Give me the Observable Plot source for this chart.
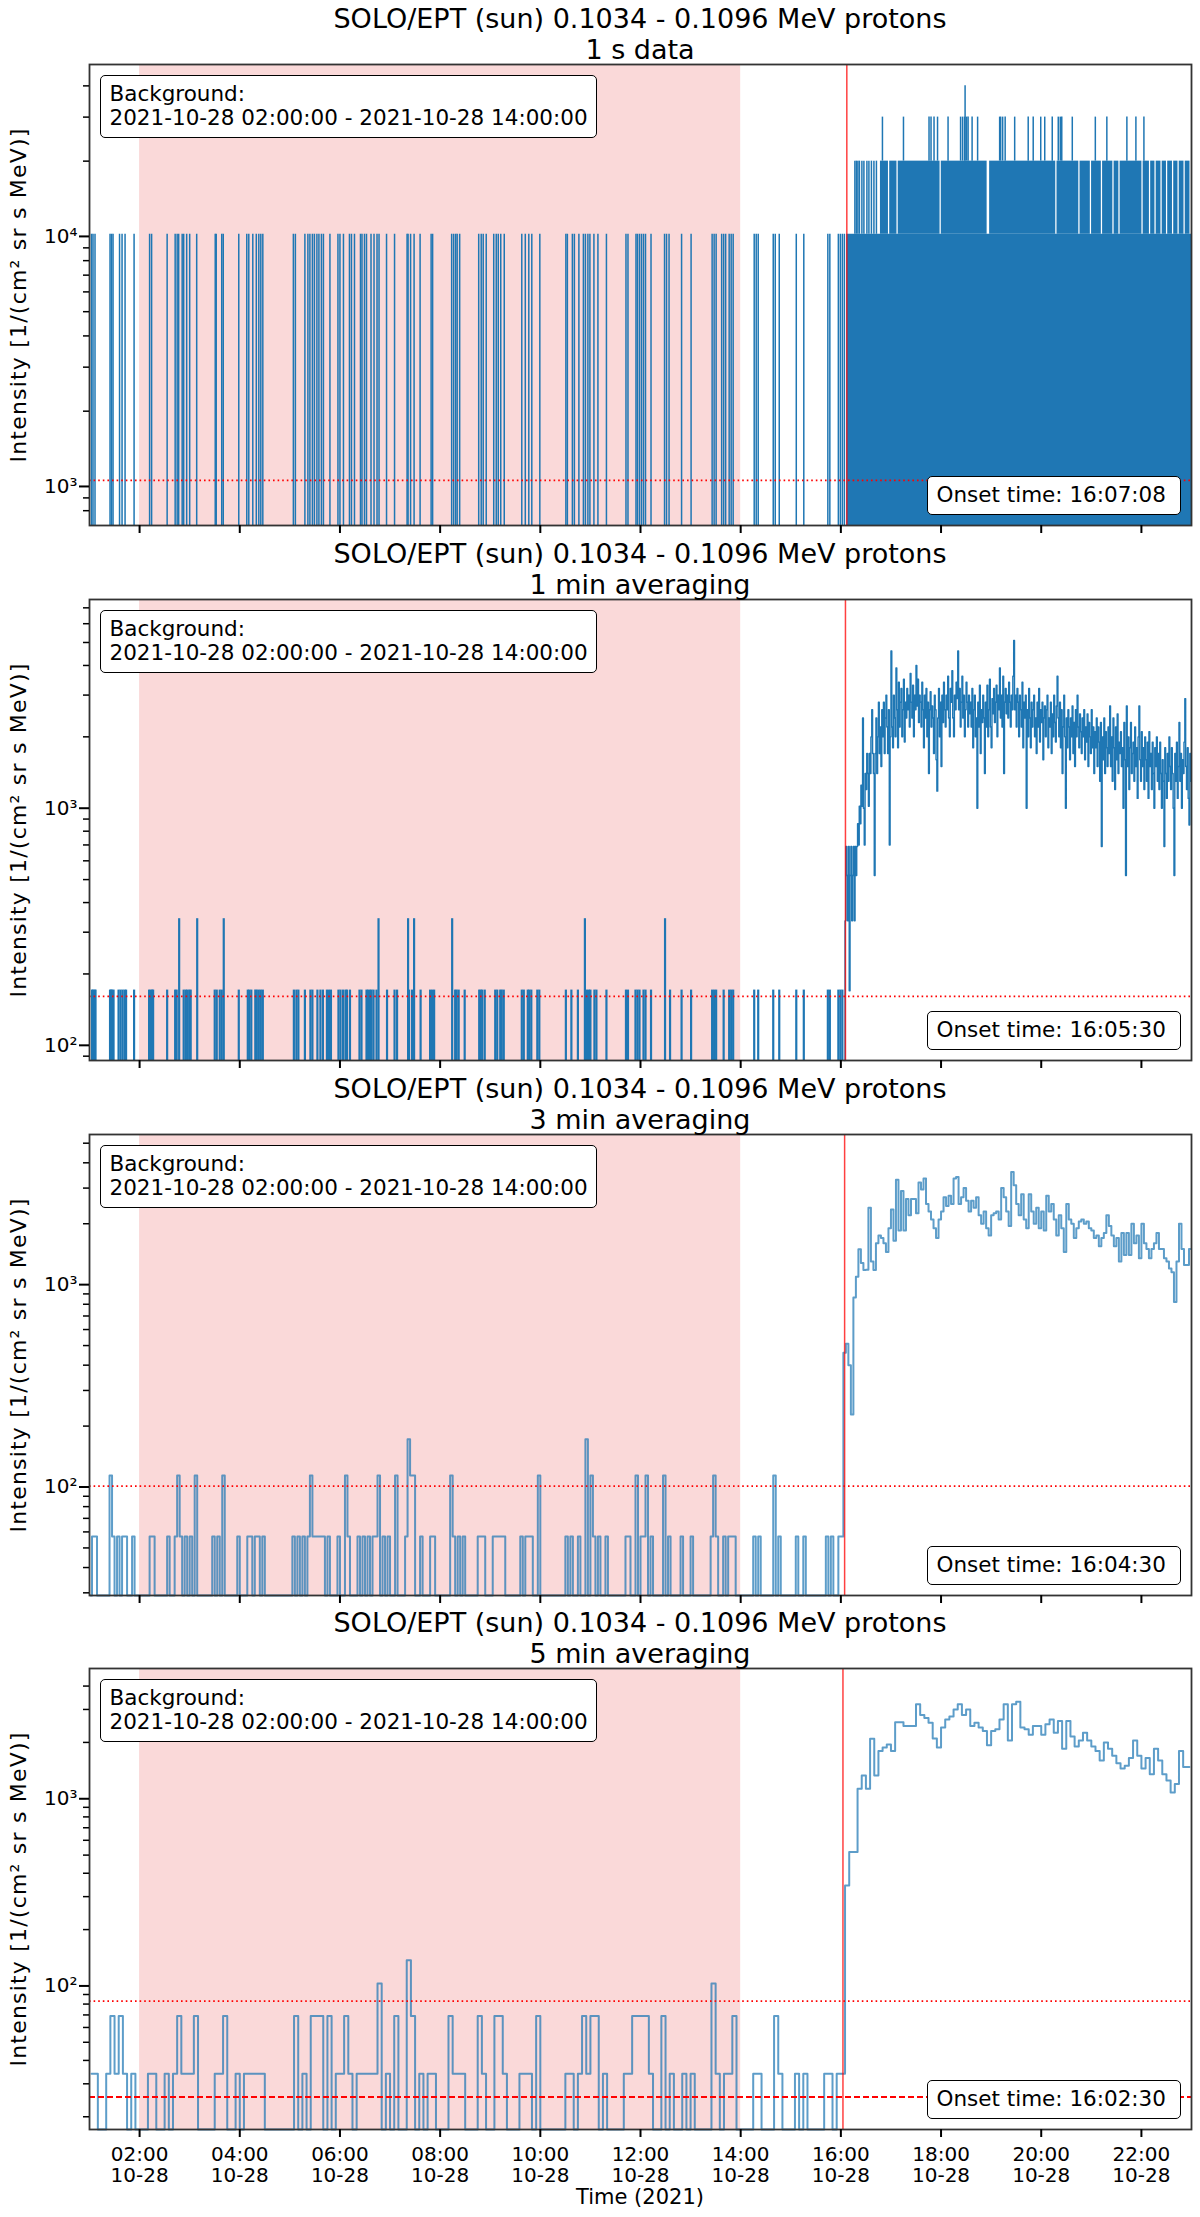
<!DOCTYPE html>
<html>
<head>
<meta charset="utf-8">
<script src="https://cdn.jsdelivr.net/npm/d3@7"></script>
<script src="https://cdn.jsdelivr.net/npm/@observablehq/plot@0.6"></script>
<style>
  body { margin: 0; background: #fff; }
  #page { position: relative; width: 1200px; height: 2217px; overflow: hidden; font-family: "DejaVu Sans", sans-serif; color: #000; }
  #page > div { position: absolute; }
  .title { left: 89px; width: 1102px; text-align: center; font-size: 27px; line-height: 31px; white-space: pre; }
  .box { background: #fff; border: 1.5px solid #000; border-radius: 5px; box-sizing: border-box; font-size: 21.5px; line-height: 24.5px; padding: 5.5px 8px 0 8.5px; white-space: pre; }
  .xlabel { left: 89px; width: 1102px; text-align: center; font-size: 21px; line-height: 24px; }
</style>
</head>
<body>
<div id="page"></div>
<script>
// ---- labels ----
const channelTitle = "SOLO/EPT (sun) 0.1034 - 0.1096 MeV protons"
const panelTitles = ["1 s data", "1 min averaging", "3 min averaging", "5 min averaging"]
const bgLabel = "Background:\n2021-10-28 02:00:00 - 2021-10-28 14:00:00"
const yLabel = "Intensity [1/(cm² sr s MeV)]"
const xLabel = "Time (2021)"
const onsetTimes = ["16:07:08", "16:05:30", "16:04:30", "16:02:30"]

// background window (hours of 2021-10-28) and threshold levels
const bgWindow = [2, 14]
const thresholdLevels = [1057, 161, 101, 83]
const meanLevel5min = 25.5

// axes
const xTickHours = [2, 4, 6, 8, 10, 12, 14, 16, 18, 20, 22]
const xTickLabels = ["02:00\n10-28", "04:00\n10-28", "06:00\n10-28", "08:00\n10-28", "10:00\n10-28", "12:00\n10-28",
  "14:00\n10-28", "16:00\n10-28", "18:00\n10-28", "20:00\n10-28", "22:00\n10-28"]
const yDomains = [[698, 48700], [86.3, 7590], [29.1, 5520], [17.1, 4965]]
const yMajorTicks = [[1e3, 1e4], [1e2, 1e3], [1e2, 1e3], [1e2, 1e3]]
const yMajorLabels = [["10³", "10⁴"], ["10²", "10³"], ["10²", "10³"], ["10²", "10³"]]
const yMinorTicks = [
  [800, 900, 2000, 3000, 4000, 5000, 6000, 7000, 8000, 9000, 20000, 30000, 40000],
  [90, 200, 300, 400, 500, 600, 700, 800, 900, 2000, 3000, 4000, 5000, 6000, 7000],
  [30, 40, 50, 60, 70, 80, 90, 200, 300, 400, 500, 600, 700, 800, 900, 2000, 3000, 4000, 5000],
  [20, 30, 40, 50, 60, 70, 80, 90, 200, 300, 400, 500, 600, 700, 800, 900, 2000, 3000, 4000]
]

// ---- 1 s data (hours of single-second spikes) ----
const level1s = [10200, 20000, 30000, 40000]
const spikes1s = [1.04, 1.07, 1.11, 1.41, 1.44, 1.47, 1.60, 1.65, 1.71, 1.89, 2.20, 2.24, 2.55, 2.71, 2.75, 2.78, 2.85,
  2.88, 2.94, 3.00, 3.14, 3.51, 3.53, 3.64, 3.67, 3.98, 4.14, 4.18, 4.26, 4.33, 4.38, 4.42, 4.46, 5.07, 5.11, 5.30,
  5.36, 5.40, 5.45, 5.49, 5.54, 5.58, 5.63, 5.67, 5.80, 5.96, 6.00, 6.07, 6.19, 6.23, 6.29, 6.41, 6.44, 6.49, 6.53,
  6.62, 6.68, 6.74, 6.78, 6.93, 7.09, 7.34, 7.36, 7.41, 7.48, 7.60, 7.82, 7.85, 8.23, 8.27, 8.31, 8.34, 8.39, 8.77,
  8.82, 8.86, 8.92, 9.07, 9.12, 9.16, 9.21, 9.28, 9.63, 9.70, 9.77, 9.83, 9.99, 10.51, 10.54, 10.64, 10.68, 10.77,
  10.86, 10.90, 10.95, 10.99, 11.07, 11.15, 11.32, 11.71, 11.75, 11.91, 11.94, 11.98, 12.02, 12.06, 12.10, 12.21,
  12.48, 12.52, 12.57, 12.82, 13.01, 13.43, 13.47, 13.51, 13.62, 13.66, 13.70, 13.77, 13.81, 13.85, 14.27, 14.31,
  14.35, 14.65, 14.69, 14.77, 15.11, 15.26, 15.74, 15.78, 15.95, 15.99, 16.03, 16.07]
const dense1s = [[16.119, 23]]
const double1s = [16.28, 16.31, 16.34, 16.37, 16.42, 16.46, 16.52, 16.56, 16.61, 16.66, 16.71]
const denseDouble1s = [[16.79, 16.95], [16.975, 17.12], [17.145, 17.98], [18.005, 18.92], [18.97, 20.29],
  [20.315, 20.75], [20.775, 20.98], [21.005, 21.20], [21.225, 21.43], [21.455, 21.55], [21.575, 22.01],
  [22.035, 22.16], [22.185, 22.27], [22.295, 22.39], [22.415, 22.50], [22.525, 22.62], [22.645, 22.73],
  [22.755, 22.85], [22.875, 22.97]]
const triple1s = [16.83, 17.25, 17.76, 17.80, 17.86, 17.93, 18.14, 18.39, 18.43, 18.47, 18.51, 18.54, 18.62, 18.73,
  19.17, 19.19, 19.23, 19.28, 19.47, 19.74, 19.84, 19.99, 20.07, 20.22, 20.34, 20.38, 20.41, 20.62, 21.08, 21.31,
  21.71, 21.89, 22.05]
const quad1s = [18.48]

// ---- 1 min averaging ----
const level1min = [171, 342]
const spikes1min = [1.05, 1.07, 1.10, 1.12, 1.41, 1.43, 1.45, 1.48, 1.58, 1.62, 1.66, 1.70, 1.73, 1.89, 2.19, 2.22,
  2.25, 2.27, 2.55, 2.71, 2.74, 2.88, 2.92, 2.95, 2.99, 3.02, 3.50, 3.54, 3.60, 3.64, 3.98, 4.16, 4.19, 4.23, 4.31,
  4.34, 4.38, 4.42, 4.46, 5.08, 5.13, 5.17, 5.30, 5.41, 5.45, 5.55, 5.61, 5.66, 5.74, 5.78, 5.82, 5.97, 6.01, 6.06,
  6.11, 6.14, 6.20, 6.39, 6.43, 6.53, 6.56, 6.60, 6.63, 6.67, 6.73, 6.94, 7.09, 7.14, 7.38, 7.44, 7.61, 7.80, 7.84,
  7.88, 8.30, 8.33, 8.37, 8.49, 8.78, 8.81, 8.84, 8.89, 9.10, 9.14, 9.20, 9.23, 9.27, 9.63, 9.67, 9.75, 9.78, 9.82,
  9.94, 9.98, 10.51, 10.62, 10.75, 10.93, 10.97, 11.00, 11.08, 11.12, 11.32, 11.71, 11.75, 11.90, 11.94, 11.98,
  12.06, 12.10, 12.21, 12.59, 12.82, 13.01, 13.43, 13.47, 13.51, 13.66, 13.77, 13.81, 13.85, 14.27, 14.35, 14.65,
  14.77, 15.11, 15.26, 15.74, 15.78, 15.95, 15.99, 16.03]
const spikes1minDouble = [2.79, 3.15, 3.68, 6.77, 7.36, 7.48, 8.24, 10.89, 12.49]
const flux1minStart = 16 + 4 / 60
const flux1min = [0,
  335, 690, 520, 335, 690, 170, 520, 690, 335, 520, 690, 335, 690, 520, 690,
  860, 700, 1020, 860, 1250, 1020, 2400, 1000, 700, 1400, 1200, 1700, 1400, 1020, 1700,
  1400, 2000, 2600, 1700, 1400, 520, 1700, 2400, 1400, 2000, 2800, 1700, 2200, 1500, 2600,
  2000, 2800, 1700, 2400, 3000, 2200, 1700, 2600, 700, 2000, 4600, 2200, 1800, 3000, 2400,
  2000, 3900, 2600, 1800, 3400, 2200, 2800, 3200, 2000, 2600, 3500, 1900, 2800, 2400, 3200,
  2600, 3000, 2200, 3700, 2800, 2400, 3300, 2000, 3000, 2600, 4000, 2700, 3500, 2300, 3000,
  2800, 2200, 3400, 2600, 1800, 3000, 2400, 3200, 2000, 2800, 1400, 2600, 3100, 2200, 2700,
  2400, 1700, 3000, 2600, 1600, 1180, 2400, 3200, 2000, 2800, 1500, 3000, 2300, 3400, 2600,
  2200, 3000, 2600, 3600, 2400, 2000, 3200, 2800, 3800, 2400, 2000, 3000, 2600, 3400, 2900,
  4600, 2600, 3200, 2200, 2800, 3600, 2400, 3000, 2000, 2600, 3400, 2800, 2200, 3000, 2500,
  2800, 2200, 3200, 1800, 2600, 3000, 2000, 2400, 1000, 2800, 2200, 3300, 1700, 2600, 2300,
  3000, 2400, 1400, 2800, 2200, 3300, 2000, 2600, 3500, 2200, 1800, 2900, 2500, 3200, 2300,
  2800, 3300, 2000, 3000, 2600, 3900, 2400, 3000, 2200, 3600, 1400, 2800, 3200, 2500, 3000,
  2400, 3400, 2800, 2200, 3000, 2600, 3600, 5100, 2600, 3000, 2200, 3200, 2800, 2000, 3000,
  2600, 2200, 3400, 1800, 2800, 2400, 3000, 1000, 2600, 2000, 3200, 2400, 1800, 2800, 2200,
  2600, 3000, 2000, 2400, 1700, 2800, 2200, 3200, 1900, 2600, 2300, 2800, 1600, 2400, 2700,
  2000, 2600, 3000, 1800, 2400, 2200, 2800, 1700, 2500, 2000, 3000, 2300, 1900, 2700, 3600,
  2400, 2000, 2800, 1800, 2600, 1400, 2200, 3000, 2000, 1000, 2400, 1800, 2600, 2200, 1600,
  2400, 2000, 2700, 1700, 2300, 1500, 2600, 2000, 3000, 2200, 1800, 2500, 2100, 1700, 2400,
  2000, 2600, 1600, 2200, 1900, 2500, 1500, 2300, 2000, 1700, 2600, 1800, 2200, 1400, 2100,
  1800, 2400, 1500, 2200, 1900, 1300, 2300, 690, 2000, 1600, 2400, 1400, 2100, 1800, 1500,
  2200, 1700, 2700, 1500, 2000, 1300, 2400, 1800, 1200, 2200, 1600, 2500, 1400, 1900, 1700,
  2100, 1500, 1800, 1000, 2300, 1600, 520, 2700, 1500, 2000, 1200, 1800, 2300, 1400, 1700,
  1900, 1300, 2200, 1500, 1800, 1100, 2000, 2700, 1600, 1300, 2100, 1500, 1800, 1200, 2000,
  1600, 1300, 1900, 1100, 2100, 1500, 1700, 1200, 1900, 1400, 1000, 1800, 1500, 2000, 1300,
  1700, 1200, 1900, 1400, 1000, 1600, 1300, 690, 1800, 1400, 1100, 1700, 1300, 2000, 1500,
  1200, 1800, 1400, 1000, 520, 1700, 1300, 1900, 1100, 1500, 2300, 1300, 1700, 1000, 1600,
  1400, 1900, 2900, 1500, 1200, 1800, 1100, 850, 1700, 1300]

// ---- 3 min averaging, from 01:00 ----
const flux3min = [
  0, 57, 57, 0, 0, 0, 0, 0, 114, 57, 0, 57, 0, 57, 57, 0, 0, 57, 0, 0,
  0, 0, 0, 0, 57, 57, 0, 0, 0, 0, 0, 57, 0, 0, 57, 114, 57, 0, 57, 0,
  57, 0, 114, 0, 0, 0, 0, 0, 0, 57, 0, 57, 0, 114, 0, 0, 0, 0, 0, 57,
  0, 0, 0, 57, 57, 0, 57, 57, 0, 57, 0, 0, 0, 0, 0, 0, 0, 0, 0, 0,
  0, 57, 0, 57, 0, 57, 0, 57, 114, 57, 57, 57, 57, 57, 0, 57, 0, 0, 0, 57,
  0, 0, 114, 57, 0, 0, 0, 57, 0, 57, 0, 57, 0, 57, 57, 114, 0, 57, 0, 57,
  0, 0, 114, 0, 0, 0, 57, 172, 114, 114, 0, 0, 57, 0, 0, 0, 57, 57, 0, 0,
  0, 0, 0, 0, 114, 57, 0, 57, 0, 57, 0, 0, 0, 0, 0, 57, 57, 57, 0, 0,
  0, 57, 57, 57, 57, 57, 0, 0, 0, 0, 0, 0, 57, 0, 57, 57, 57, 0, 0, 114,
  0, 0, 0, 0, 0, 0, 0, 0, 0, 0, 57, 0, 57, 0, 0, 57, 0, 0, 172, 0,
  114, 57, 0, 57, 0, 0, 57, 0, 0, 0, 0, 0, 0, 0, 57, 57, 0, 0, 114, 0,
  57, 57, 114, 0, 57, 0, 0, 0, 0, 114, 0, 57, 0, 0, 0, 0, 57, 0, 0, 0,
  57, 0, 0, 0, 0, 0, 0, 0, 57, 114, 57, 0, 0, 57, 0, 57, 57, 57, 0, 0,
  0, 0, 0, 0, 0, 57, 0, 57, 0, 0, 0, 0, 0, 114, 0, 57, 0, 0, 0, 0,
  0, 0, 57, 0, 0, 57, 0, 0, 0, 0, 0, 0, 0, 0, 57, 0, 57, 0, 0, 57,
  57,
  461, 510, 400, 228, 865, 1094, 1497, 1280, 1180, 1184, 2400, 1300, 1180, 1600, 1750, 1700, 1600, 1450, 1900,
  2350, 1650, 3300, 1850, 2900, 1850, 2650, 2200, 2650, 2650, 2250, 3200, 2950, 3350, 2500, 2300, 2100, 1900, 1700,
  2100, 2300, 2700, 2450, 2750, 2500, 3350, 3400, 2500, 2700, 3000, 2600, 2300, 2600, 2400, 2700, 2200, 2000, 2300,
  1900, 1750, 2200, 2250, 2300, 2100, 3000, 2700, 2300, 1950, 3600, 3100, 2500, 2200, 2800, 2100, 1900, 2800, 2300,
  2000, 2400, 1900, 2300, 1850, 2750, 2300, 2500, 2100, 1750, 2200, 1900, 1450, 2500, 2100, 2000, 1700, 1900, 2050,
  2100, 2000, 2050, 1900, 1850, 1700, 1750, 1550, 1700, 1800, 2200, 1950, 1750, 1550, 1700, 1300, 1800, 1400, 1800,
  1400, 2000, 1600, 1750, 1350, 2000, 1600, 1500, 1350, 1500, 1600, 1800, 1500, 1500, 1350, 1300, 1200, 1150, 820,
  1300, 2000, 1500, 1250, 1250, 1500]

// ---- 5 min averaging, from 01:00 ----
const flux5min = [
  34, 34, 0, 0, 34, 69, 34, 69, 34, 0, 34, 0,
  0, 0, 34, 34, 0, 0, 34, 0, 34, 69, 34, 34,
  34, 69, 0, 0, 0, 0, 34, 34, 69, 0, 0, 34,
  0, 34, 34, 34, 34, 34, 0, 0, 0, 0, 0, 0,
  0, 69, 0, 34, 0, 69, 69, 69, 0, 69, 0, 34,
  34, 69, 34, 0, 34, 34, 34, 34, 34, 103, 0, 34,
  0, 69, 0, 0, 137, 69, 0, 34, 0, 34, 34, 0,
  0, 0, 69, 34, 34, 34, 0, 0, 0, 69, 34, 0,
  0, 69, 69, 34, 0, 0, 0, 34, 34, 34, 0, 69,
  0, 0, 0, 0, 0, 0, 34, 34, 0, 34, 69, 34,
  69, 69, 0, 34, 0, 0, 0, 0, 34, 34, 69, 69,
  69, 69, 34, 0, 0, 69, 0, 34, 0, 0, 34, 0,
  34, 0, 0, 0, 0, 103, 34, 0, 34, 34, 69, 0,
  0, 0, 0, 34, 34, 0, 0, 0, 69, 34, 0, 0,
  0, 34, 0, 34, 0, 0, 0, 0, 34, 34, 0, 34,
  34,
  344, 519, 519, 1130, 1330, 1130, 2090, 1330, 1800, 1880,
  1950, 1800, 2560, 2560, 2450, 2450, 2450, 3200, 2800, 2700,
  2550, 2100, 1880, 2400, 2650, 2750, 3000, 3200, 2800, 3000,
  2450, 2550, 2400, 2300, 1930, 2300, 2350, 2650, 3200, 2050,
  3200, 3300, 2400, 2350, 2200, 2450, 2450, 2200, 2500, 2650,
  2250, 2600, 1850, 2600, 2150, 1900, 2050, 2250, 2050, 1900,
  1800, 1600, 2000, 1850, 1700, 1550, 1450, 1500, 1650, 2050,
  1700, 1450, 1650, 1350, 1850, 1600, 1350, 1250, 1080, 1200,
  1800, 1480, 1480]

// ---- helpers ----
const BLUE = "#1f77b4"
const day = Date.UTC(2021, 9, 28)
const at = h => new Date(day + h * 3600e3)
const hms = s => { const [h, m, sec] = s.split(":").map(Number); return h + m / 60 + sec / 3600 }
const panelTops = [64, 599, 1134, 1668]
const plotH = 461
const page = document.getElementById("page")

function seriesLine(values, startHour, stepHours, y0, opts) {
  return Plot.line(values, {
    x: (d, i) => at(startHour + (i + 0.5) * stepHours),
    y: d => Math.max(d, y0),
    curve: "step", stroke: BLUE, ...opts
  })
}

function dataMarks(i) {
  const y0 = yDomains[i][0]
  if (i === 0) return [
    Plot.ruleX(spikes1s, {x: at, y1: y0, y2: level1s[0], stroke: BLUE, strokeWidth: 1.5}),
    Plot.rect(dense1s, {x1: d => at(d[0]), x2: d => at(d[1]), y1: y0, y2: level1s[0], fill: BLUE}),
    Plot.ruleX(double1s, {x: at, y1: level1s[0], y2: level1s[1], stroke: BLUE, strokeWidth: 1.5}),
    Plot.rect(denseDouble1s, {x1: d => at(d[0]), x2: d => at(d[1]), y1: level1s[0], y2: level1s[1], fill: BLUE}),
    Plot.ruleX(triple1s, {x: at, y1: level1s[1], y2: level1s[2], stroke: BLUE, strokeWidth: 1.5}),
    Plot.ruleX(quad1s, {x: at, y1: level1s[1], y2: level1s[3], stroke: BLUE, strokeWidth: 1.5})
  ]
  if (i === 1) return [
    Plot.ruleX(spikes1min, {x: at, y1: y0, y2: level1min[0], stroke: BLUE, strokeWidth: 2.2}),
    Plot.ruleX(spikes1minDouble, {x: at, y1: y0, y2: level1min[1], stroke: BLUE, strokeWidth: 2.2}),
    seriesLine(flux1min, flux1minStart, 1 / 60, y0, {strokeWidth: 1.4})
  ]
  if (i === 2) return [seriesLine(flux3min, 1, 3 / 60, y0, {strokeWidth: 2, strokeOpacity: 0.72})]
  return [
    seriesLine(flux5min, 1, 5 / 60, y0, {strokeWidth: 2, strokeOpacity: 0.72}),
    Plot.ruleY([meanLevel5min], {stroke: "red", strokeWidth: 2, strokeDasharray: "6,3"})
  ]
}

panelTitles.forEach((sub, i) => {
  const last = i === 3
  const top = panelTops[i]
  const mb = last ? 90 : 14
  const yDom = yDomains[i]
  const chart = Plot.plot({
    width: 1200,
    height: 6 + plotH + mb,
    marginTop: 6, marginBottom: mb, marginLeft: 89, marginRight: 9,
    style: {fontFamily: "'DejaVu Sans', sans-serif", fontSize: "20px", color: "#000", background: "transparent", overflow: "visible"},
    x: {type: "utc", domain: [at(1), at(23)]},
    y: {type: "log", domain: yDom},
    marks: [
      Plot.rect([bgWindow], {x1: d => at(d[0]), x2: d => at(d[1]), y1: yDom[0], y2: yDom[1], fill: "#fad9d9"}),
      ...dataMarks(i),
      Plot.ruleY([thresholdLevels[i]], {stroke: "red", strokeWidth: 1.8, strokeDasharray: "1.6,3"}),
      Plot.ruleX([hms(onsetTimes[i])], {x: at, stroke: "red", strokeOpacity: 0.75, strokeWidth: 1.5}),
      Plot.frame({stroke: "#333", strokeWidth: 1.8}),
      Plot.axisX({
        ticks: xTickHours.map(at), tickSize: 8, strokeWidth: 2, tickPadding: 9, label: null,
        fontSize: 20, lineHeight: 1.05,
        tickFormat: last ? (d => xTickLabels[xTickHours.findIndex(h => +at(h) === +d)]) : () => ""
      }),
      Plot.axisY({
        ticks: yMajorTicks[i], tickSize: 10, tickPadding: 2, strokeWidth: 2, label: null, fontSize: 20,
        tickFormat: d => yMajorLabels[i][yMajorTicks[i].indexOf(d)]
      }),
      Plot.axisY({ticks: yMinorTicks[i], tickSize: 6, strokeWidth: 1.5, label: null, tickFormat: () => ""}),
      Plot.text([yLabel], {
        text: d => d, frameAnchor: "left", dx: -71, rotate: -90, fontSize: 22,
        textAnchor: "middle", lineAnchor: "middle", className: "ylab"
      })
    ]
  })
  // matplotlib's mathtext label is a little wider than plain text
  d3.select(chart).selectAll(".ylab text").attr("letter-spacing", "1.2px")

  const holder = document.createElement("div")
  holder.style.left = "0px"
  holder.style.top = (top - 6) + "px"
  holder.appendChild(chart)
  page.appendChild(holder)

  const title = document.createElement("div")
  title.className = "title"
  title.style.top = (top - 61) + "px"
  title.textContent = channelTitle + "\n" + sub
  page.appendChild(title)

  const bg = document.createElement("div")
  bg.className = "box"
  bg.style.left = "100px"
  bg.style.top = (top + 11) + "px"
  bg.style.width = "497px"
  bg.style.height = "63px"
  bg.textContent = bgLabel
  page.appendChild(bg)

  const on = document.createElement("div")
  on.className = "box"
  on.style.left = "927px"
  on.style.top = (top + plotH - 10 - 39) + "px"
  on.style.width = "254px"
  on.style.height = "39px"
  on.textContent = "Onset time: " + onsetTimes[i]
  page.appendChild(on)
})

const xl = document.createElement("div")
xl.className = "xlabel"
xl.style.top = "2185px"
xl.textContent = xLabel
page.appendChild(xl)
</script>
</body>
</html>
